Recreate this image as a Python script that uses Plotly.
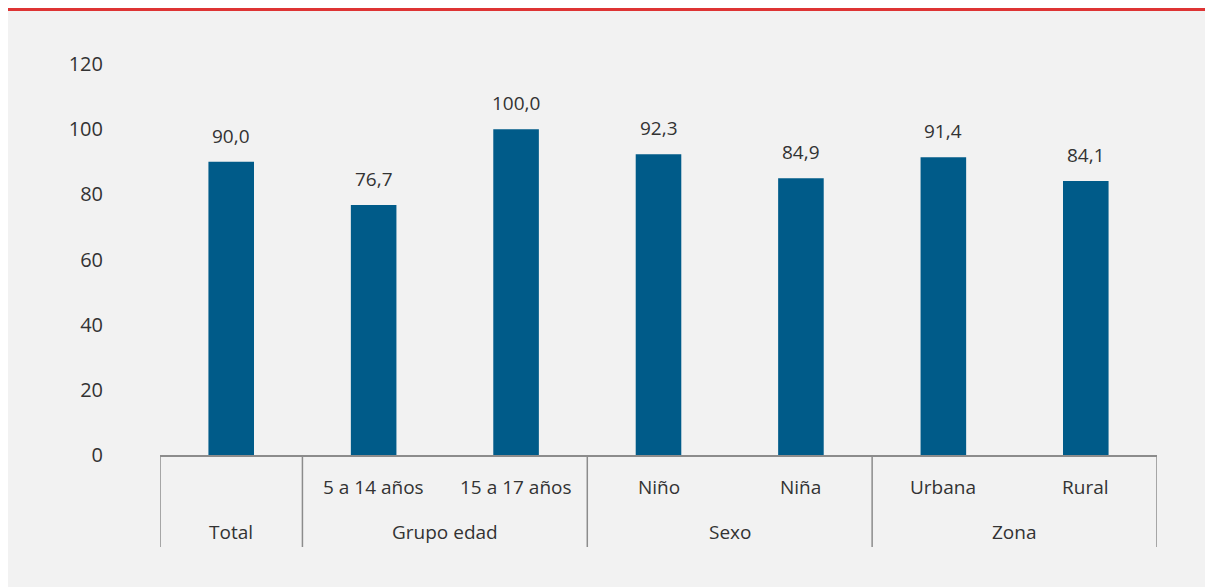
import plotly.graph_objects as go

groups = ["Total", "Grupo edad", "Grupo edad", "Sexo", "Sexo", "Zona", "Zona"]
subcats = ["", "5 a 14 años", "15 a 17 años", "Niño", "Niña", "Urbana", "Rural"]
values = [90.0, 76.7, 100.0, 92.3, 84.9, 91.4, 84.1]
labels = [f"{v:.1f}".replace(".", ",") for v in values]
y_ticks = [0, 20, 40, 60, 80, 100, 120]

BAR = "#005b89"
BG = "#f2f2f2"
TXT = "#333333"
AX = "#8c8c8c"
FONT = "Open Sans"

W, H = 1205, 587
L, R, T, B = 160, 48, 64, 132
pw, ph = W - L - R, H - T - B

def px_x(p):
    return (p - L) / pw

def px_y(p):
    return (H - B - p) / ph

fig = go.Figure()
fig.add_trace(go.Bar(
    x=[groups, subcats], y=values,
    marker=dict(color=BAR, line=dict(width=0)),
    width=0.32,
    hoverinfo="skip",
))

# value labels
for i, (v, t) in enumerate(zip(values, labels)):
    fig.add_annotation(x=i, y=v, xref="x", yref="y", text=t, showarrow=False,
                       yanchor="middle", yshift=26,
                       font=dict(family=FONT, size=19, color=TXT))

# inner category labels
for i, s in enumerate(subcats):
    if s:
        fig.add_annotation(x=i, y=px_y(487), xref="x", yref="paper", text=s,
                           showarrow=False, yanchor="middle",
                           font=dict(family=FONT, size=19, color=TXT))

# outer group labels and dividers
spans = []
for i, g in enumerate(groups):
    if spans and spans[-1][0] == g:
        spans[-1][2] = i
    else:
        spans.append([g, i, i])
for g, a, b in spans:
    fig.add_annotation(x=(a + b) / 2, y=px_y(532), xref="x", yref="paper", text=g,
                       showarrow=False, yanchor="middle",
                       font=dict(family=FONT, size=19, color=TXT))
bounds = sorted({a - 0.5 for _, a, _ in spans} | {b + 0.5 for _, _, b in spans})
for xb in bounds:
    fig.add_shape(type="line", xref="x", yref="paper", x0=xb, x1=xb,
                  y0=0, y1=px_y(547), line=dict(color=AX, width=1.5))

# white page margins (top and left) and red top rule
fig.add_shape(type="rect", xref="paper", yref="paper", layer="above",
              x0=px_x(-5), x1=px_x(W + 5), y0=px_y(8), y1=px_y(-5),
              line=dict(width=0), fillcolor="white")
fig.add_shape(type="rect", xref="paper", yref="paper", layer="above",
              x0=px_x(-5), x1=px_x(8), y0=px_y(H + 5), y1=px_y(-5),
              line=dict(width=0), fillcolor="white")
fig.add_shape(type="line", xref="paper", yref="paper",
              x0=px_x(8), x1=px_x(W + 10), y0=px_y(9.5), y1=px_y(9.5),
              line=dict(color="#de3434", width=3))

fig.update_layout(
    width=W, height=H,
    margin=dict(l=L, r=R, t=T, b=B),
    paper_bgcolor=BG, plot_bgcolor=BG,
    font=dict(family=FONT, size=19, color=TXT),
    showlegend=False,
    bargap=0.68,
)
fig.update_yaxes(range=[0, 120], tickvals=y_ticks, showgrid=False, zeroline=False,
                 showline=False, ticks="", ticklabelstandoff=56,
                 tickfont=dict(family=FONT, size=20, color=TXT))
fig.update_xaxes(showline=True, linecolor=AX, linewidth=1.5,
                 showgrid=False, ticks="", showticklabels=False,
                 showdividers=False, range=[-0.5, len(values) - 0.5])

fig.write_html("out.html", config={"displayModeBar": False},
               post_script="document.body.style.margin='0';document.body.style.overflow='hidden';")
